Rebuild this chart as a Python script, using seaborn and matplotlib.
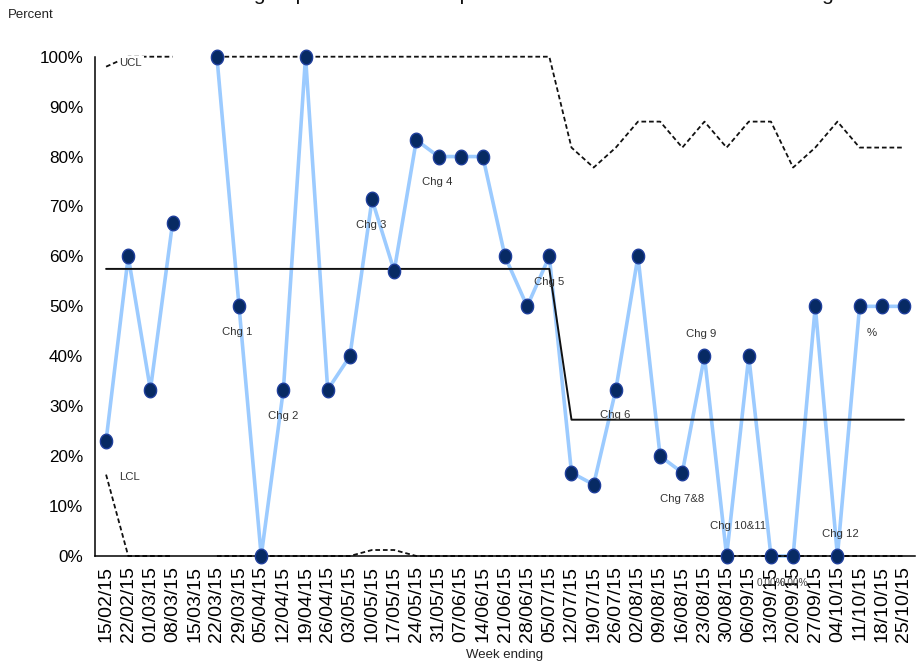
import numpy as np
import pandas as pd
import matplotlib
matplotlib.use('Agg')
import matplotlib.pyplot as plt
import seaborn as sns

sns.set_style('white')
plt.rcParams['font.family'] = ['Liberation Sans', 'DejaVu Sans']

# Week ending labels
weeks = ['15/02/15', '22/02/15', '01/03/15', '08/03/15', '15/03/15', '22/03/15',
         '29/03/15', '05/04/15', '12/04/15', '19/04/15', '26/04/15', '03/05/15',
         '10/05/15', '17/05/15', '24/05/15', '31/05/15', '07/06/15', '14/06/15',
         '21/06/15', '28/06/15', '05/07/15', '12/07/15', '19/07/15', '26/07/15',
         '02/08/15', '09/08/15', '16/08/15', '23/08/15', '30/08/15', '06/09/15',
         '13/09/15', '20/09/15', '27/09/15', '04/10/15', '11/10/15', '18/10/15',
         '25/10/15']

nan = np.nan
# weekly percentage (15/03 has no data)
pct = [23.1, 60.0, 33.3, 66.7, nan, 100.0, 50.0, 0.0, 33.3, 100.0,
       33.3, 40.0, 71.4, 57.1, 83.3, 80.0, 80.0, 80.0, 60.0, 50.0,
       60.0, 16.7, 14.3, 33.3, 60.0, 20.0, 16.7, 40.0, 0.0, 40.0,
       0.0, 0.0, 50.0, 0.0, 50.0, 50.0, 50.0]

# centre line (mean), two phases
centre = [57.5, 57.5, 57.5, 57.5, 57.5, 57.5, 57.5, 57.5, 57.5, 57.5,
          57.5, 57.5, 57.5, 57.5, 57.5, 57.5, 57.5, 57.5, 57.5, 57.5,
          57.5, 27.3, 27.3, 27.3, 27.3, 27.3, 27.3, 27.3, 27.3, 27.3,
          27.3, 27.3, 27.3, 27.3, 27.3, 27.3, 27.3]

ucl = [98.0, 100.0, 100.0, 100.0, nan, 100.0, 100.0, 100.0, 100.0, 100.0,
       100.0, 100.0, 100.0, 100.0, 100.0, 100.0, 100.0, 100.0, 100.0, 100.0,
       100.0, 81.8, 77.8, 81.8, 87.0, 87.0, 81.8, 87.0, 81.8, 87.0,
       87.0, 77.8, 81.8, 87.0, 81.8, 81.8, 81.8]

lcl = [16.3, 0.0, 0.0, 0.0, nan, 0.0, 0.0, 0.0, 0.0, 0.0,
       0.0, 0.0, 1.2, 1.2, 0.0, 0.0, 0.0, 0.0, 0.0, 0.0,
       0.0, 0.0, 0.0, 0.0, 0.0, 0.0, 0.0, 0.0, 0.0, 0.0,
       0.0, 0.0, 0.0, 0.0, 0.0, 0.0, 0.0]

# text notes on the chart: (text, week position, percent)
notes = [('Chg 1', 5.93, 44.9), ('Chg 2', 7.97, 28.1), ('Chg 3', 11.98, 66.3),
         ('Chg 4', 14.96, 74.9), ('Chg 5', 20.01, 54.9), ('Chg 6', 22.99, 28.3),
         ('Chg 7&8', 26.01, 11.4), ('Chg 9', 26.83, 44.5), ('Chg 10&11', 28.5, 6.0),
         ('Chg 12', 33.14, 4.4), ('%', 34.54, 44.7)]
zero_notes = [('0.00%', 29.98, -5.4), ('0.00%', 31.05, -5.4)]

x = np.arange(len(weeks))

fig = plt.figure(figsize=(9.16, 6.62), dpi=100)
ax = fig.add_axes([95 / 916, 1 - 556 / 662, 820 / 916, (556 - 56.7) / 662])


def draw(values, **kw):
    d = pd.DataFrame({'x': x, 'y': values})
    d['seg'] = d['y'].isna().cumsum()
    d = d.dropna()
    sns.lineplot(data=d, x='x', y='y', units='seg', estimator=None, ax=ax,
                 legend=False, clip_on=False, **kw)


draw(pct, color='#9ccbff', linewidth=2.6, zorder=2)
draw(centre, color='#111111', linewidth=1.4, zorder=3)
draw(ucl, color='#111111', linewidth=1.3, linestyle=(0, (2.6, 1.6)), zorder=3)
draw(lcl, color='#111111', linewidth=1.3, linestyle=(0, (2.6, 1.6)), zorder=3)

t = np.linspace(0, 2 * np.pi, 40)
ellipse = list(zip(0.84 * np.cos(t), np.sin(t)))
pts = pd.DataFrame({'x': x, 'y': pct}).dropna()
sns.scatterplot(data=pts, x='x', y='y', ax=ax, marker=ellipse, s=110,
                color='#072a63', edgecolor='#1f3f9c', linewidth=1.0,
                zorder=6, clip_on=False, legend=False)

ax.set_xlim(-0.5, 36.5)
ax.set_ylim(0, 100)
ax.set_xticks(x)
ax.set_xticks(np.arange(-0.5, 37, 1.0), minor=True)
ax.set_xticklabels(weeks, rotation=90, fontsize=14)
ax.tick_params(axis='x', which='major', length=0, pad=7, colors='black')
ax.tick_params(axis='x', which='minor', length=4, width=0.9, direction='out')
ax.set_yticks(np.arange(0, 101, 10))
ax.set_yticks(np.arange(0, 101, 2), minor=True)
ax.set_yticklabels([f'{v}%' for v in range(0, 101, 10)], fontsize=12.3)
ax.tick_params(axis='y', which='major', length=9, width=1.0, direction='inout', pad=4)
ax.tick_params(axis='y', which='minor', length=4, width=0.8, direction='in')
ax.tick_params(axis='both', colors='black')
ax.set_xlabel('')
ax.set_ylabel('')
for s in ['top', 'right']:
    ax.spines[s].set_visible(False)
for s in ['left', 'bottom']:
    ax.spines[s].set_color('black')
    ax.spines[s].set_linewidth(1.1)
    ax.spines[s].set_zorder(5)

for label, px, py in notes:
    ax.text(px, py, label, ha='center', va='center', fontsize=8.2,
            color='#333333', clip_on=False, zorder=7)
for label, px, py in zero_notes:
    ax.text(px, py, label, ha='center', va='center', fontsize=7.2,
            color='#444444', clip_on=False, zorder=7)

ax.text(0.61, 98.8, 'UCL', ha='left', va='center', fontsize=8.2,
        color='#333333', zorder=7,
        bbox=dict(facecolor='white', edgecolor='none', pad=1.5))
ax.text(0.61, 15.8, 'LCL', ha='left', va='center', fontsize=8.2,
        color='#333333', zorder=7)

fig.text(8 / 916, 1 - 15 / 662, 'Percent', ha='left', va='center', fontsize=9.5,
         color='#222222')
fig.text(505 / 916, 1 - 655 / 662, 'Week ending', ha='center', va='center',
         fontsize=9.5, color='#222222')
fig.text(495 / 916, 1.0, 'P chart showing % patients who had pain reassessed within the hour of analgesia',
         ha='center', va='baseline', fontsize=15, color='#111111')

fig.savefig('out.png', dpi=100)
